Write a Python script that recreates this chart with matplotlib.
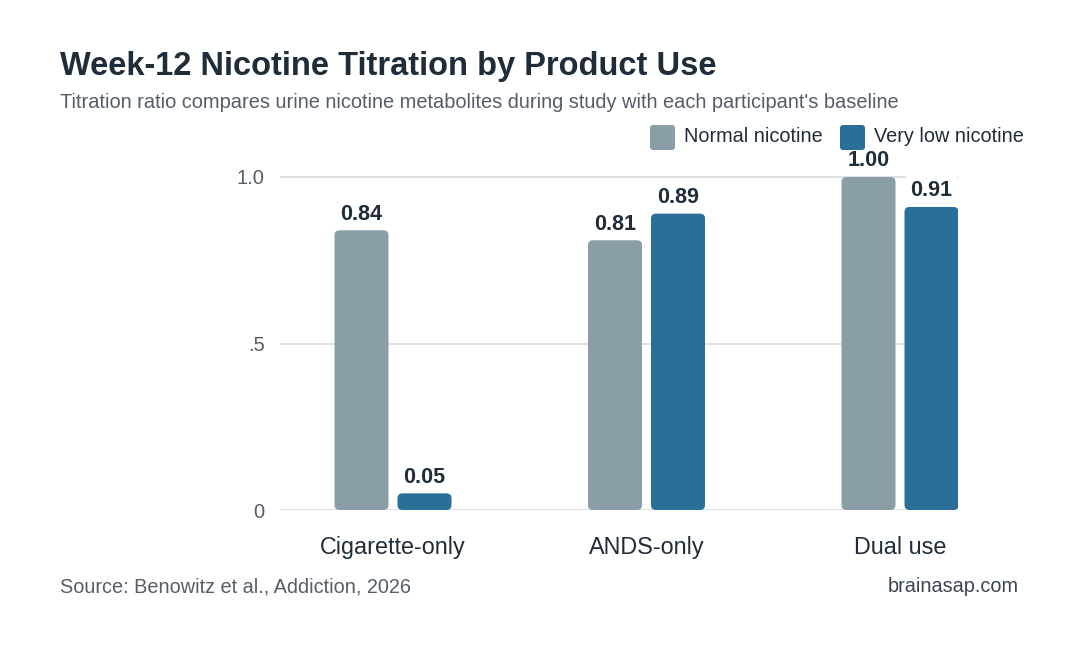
import matplotlib
matplotlib.use("Agg")
import matplotlib.pyplot as plt
from matplotlib.patches import FancyBboxPatch

plt.rcParams['font.family'] = ['Liberation Sans', 'DejaVu Sans']

categories = ["Cigarette-only", "ANDS-only", "Dual use"]
series_names = ["Normal nicotine", "Very low nicotine"]
normal = [0.84, 0.81, 1.00]
very_low = [0.05, 0.89, 0.91]
ytick_vals = [0, 0.5, 1.0]
ytick_labels = ["0", ".5", "1.0"]

c_normal = "#8a9ea7"
c_low = "#2a6f97"
c_title = "#1f2d3a"
c_sub = "#555e68"
c_grid = "#d9dee3"

W, H = 1080, 660
fig = plt.figure(figsize=(W / 100, H / 100), dpi=100)

ax_l, ax_r = 280, 958
ax_b, ax_t = 510, 160
ax = fig.add_axes([ax_l / W, 1 - ax_b / H, (ax_r - ax_l) / W, (ax_b - ax_t) / H])

spacing = 253.5
xmin = (ax_l - 393) / spacing
xmax = (ax_r - 393) / spacing
ymax = (ax_b - ax_t) / 333.0
ax.set_xlim(xmin, xmax)
ax.set_ylim(0, ymax)

bar_w = 54 / spacing
off = 31.5 / spacing

xu = (xmax - xmin) / (ax_r - ax_l)
yu = ymax / (ax_b - ax_t)
r_px = 5

bars = ax.bar([i - off for i in range(3)], normal, width=bar_w, color=c_normal, label=series_names[0])
bars2 = ax.bar([i + off for i in range(3)], very_low, width=bar_w, color=c_low, label=series_names[1])
for container in (bars, bars2):
    for b in container:
        b.set_visible(False)
        p = FancyBboxPatch((b.get_x(), b.get_y()), b.get_width(), b.get_height(),
                           boxstyle=f"round,pad=0,rounding_size={r_px * xu}",
                           mutation_aspect=yu / xu,
                           facecolor=b.get_facecolor(), edgecolor="none", zorder=3)
        ax.add_patch(p)
        ax.annotate(f"{b.get_height():.2f}", (b.get_x() + b.get_width() / 2, b.get_height()),
                    xytext=(0, 4), textcoords="offset points", ha="center", va="bottom",
                    fontsize=15.5, fontweight="bold", color=c_title, zorder=4,
                    bbox=dict(boxstyle="square,pad=0.2", fc="white", ec="none"))

ax.set_yticks(ytick_vals)
ax.set_yticklabels(ytick_labels)
ax.set_xticks(range(3))
ax.set_xticklabels(categories)
ax.tick_params(axis="y", length=0, pad=11, labelsize=14.5, labelcolor=c_sub)
ax.tick_params(axis="x", length=0, pad=19, labelsize=16.8, labelcolor=c_title)
ax.grid(axis="y", color=c_grid, linewidth=1.3, zorder=0)
ax.set_axisbelow(True)
for s in ax.spines.values():
    s.set_visible(False)

fig.text(60 / W, 1 - 67 / H, "Week-12 Nicotine Titration by Product Use", fontsize=23.5,
         fontweight="bold", color=c_title, va="center", ha="left")
fig.text(60 / W, 1 - 102 / H,
         "Titration ratio compares urine nicotine metabolites during study with each participant's baseline",
         fontsize=14.4, color=c_sub, va="center", ha="left")

# legend
def legend_item(x0, label, color):
    p = FancyBboxPatch((x0 / W, 1 - 150 / H), 25 / W, 25 / H,
                       boxstyle=f"round,pad=0,rounding_size={3 / W}",
                       mutation_aspect=W / H,
                       transform=fig.transFigure, facecolor=color, edgecolor="none")
    fig.patches.append(p)
    fig.text((x0 + 34) / W, 1 - 137 / H, label, fontsize=14.3, color=c_title,
             va="center", ha="left")

legend_item(650, series_names[0], c_normal)
legend_item(840, series_names[1], c_low)

fig.text(60 / W, 1 - 587 / H, "Source: Benowitz et al., Addiction, 2026", fontsize=14.3,
         color=c_sub, va="center", ha="left")
fig.text(1019 / W, 1 - 587 / H, "brainasap.com", fontsize=14.3,
         color="#3a4654", va="center", ha="right")

fig.savefig("out.png", dpi=100, facecolor="white")
